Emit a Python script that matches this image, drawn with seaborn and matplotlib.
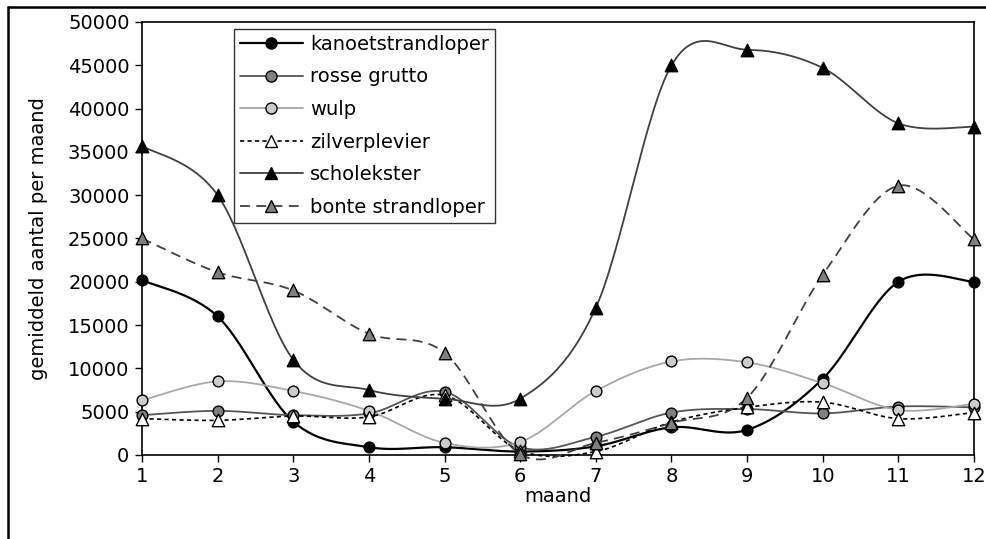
import numpy as np
import pandas as pd
import matplotlib
matplotlib.use("Agg")
import matplotlib.pyplot as plt
import seaborn as sns
from matplotlib.lines import Line2D

months = [1, 2, 3, 4, 5, 6, 7, 8, 9, 10, 11, 12]
kanoetstrandloper = [20200, 16000, 3850, 900, 900, 400, 1000, 3200, 2900, 8800, 20000, 20000]
rosse_grutto = [4600, 5100, 4600, 4800, 7300, 900, 2100, 4900, 5300, 4800, 5600, 5500]
wulp = [6300, 8500, 7400, 5100, 1400, 1500, 7400, 10800, 10700, 8300, 5200, 5900]
zilverplevier = [4200, 4000, 4500, 4400, 6900, 500, 400, 3800, 5500, 6100, 4200, 4900]
scholekster = [35700, 30000, 11000, 7500, 6500, 6500, 17000, 45000, 46800, 44700, 38300, 37900]
bonte_strandloper = [25000, 21100, 19000, 14000, 11800, 100, 1400, 3700, 6600, 20800, 31100, 24900]

series_names = ["kanoetstrandloper", "rosse grutto", "wulp", "zilverplevier",
                "scholekster", "bonte strandloper"]
series_values = [kanoetstrandloper, rosse_grutto, wulp, zilverplevier,
                 scholekster, bonte_strandloper]
y_ticks = [0, 5000, 10000, 15000, 20000, 25000, 30000, 35000, 40000, 45000, 50000]

styles = [
    dict(lc="black", lw=1.6, ls="-", m="o", mfc="black", ms=60),
    dict(lc="#555555", lw=1.3, ls="-", m="o", mfc="#808080", ms=60),
    dict(lc="#a8a8a8", lw=1.3, ls="-", m="o", mfc="#cccccc", ms=60),
    dict(lc="black", lw=1.2, ls=(0, (2.5, 2.0)), m="^", mfc="white", ms=80),
    dict(lc="#404040", lw=1.3, ls="-", m="^", mfc="black", ms=80),
    dict(lc="#404040", lw=1.3, ls=(0, (5.5, 3.5)), m="^", mfc="#808080", ms=80),
]


def smooth(xv, yv, n=30):
    # Excel-like smoothed line: cubic Bezier segments with Catmull-Rom control points
    P = np.column_stack([xv, yv]).astype(float)
    out = []
    for i in range(len(P) - 1):
        p0 = P[i - 1] if i > 0 else P[i]
        p1 = P[i]
        p2 = P[i + 1]
        p3 = P[i + 2] if i + 2 < len(P) else P[i + 1]
        c1 = p1 + (p2 - p0) / 6.0
        c2 = p2 - (p3 - p1) / 6.0
        t = np.linspace(0, 1, n, endpoint=(i == len(P) - 2))[:, None]
        seg = ((1 - t) ** 3) * p1 + 3 * ((1 - t) ** 2) * t * c1 + 3 * (1 - t) * t ** 2 * c2 + t ** 3 * p2
        out.append(seg)
    out = np.vstack(out)
    return out[:, 0], out[:, 1]


sns.set_style("ticks")
plt.rcParams["font.family"] = ["DejaVu Sans"]
plt.rcParams["text.color"] = "black"
plt.rcParams["axes.labelcolor"] = "black"
FS = 14

fig = plt.figure(figsize=(9.86, 5.39), dpi=100)
ax = fig.add_axes([142 / 986, 1 - 455 / 539, (974 - 142) / 986, (455 - 22) / 539])

handles = []
for k, (name, vals, st) in enumerate(zip(series_names, series_values, styles)):
    sx, sy = smooth(months, vals)
    df = pd.DataFrame({"x": sx, "y": sy})
    sns.lineplot(data=df, x="x", y="y", ax=ax, color=st["lc"], linewidth=st["lw"],
                 linestyle=st["ls"], estimator=None, sort=False, zorder=2 + k * 2,
                 clip_on=False)
    pts = pd.DataFrame({"x": months, "y": vals})
    sns.scatterplot(data=pts, x="x", y="y", ax=ax, marker=st["m"], s=st["ms"],
                    color=st["mfc"], edgecolor="black", linewidth=1.0,
                    zorder=3 + k * 2, clip_on=False)
    handles.append(Line2D([0], [0], color=st["lc"], lw=st["lw"], linestyle=st["ls"],
                          marker=st["m"], markerfacecolor=st["mfc"],
                          markeredgecolor="black", markeredgewidth=1.0,
                          markersize=8 if st["m"] == "o" else 9))

ax.set_xlim(1, 12)
ax.set_ylim(0, 50000)
ax.set_xticks(months)
ax.set_xticklabels([str(m) for m in months])
ax.set_yticks(y_ticks)
ax.set_yticklabels([str(v) for v in y_ticks])
ax.tick_params(axis="both", labelsize=FS, length=5, width=1, color="black",
               labelcolor="black", pad=4)
for sp in ax.spines.values():
    sp.set_visible(True)
    sp.set_color("black")
    sp.set_linewidth(1.2)
ax.set_xlabel("maand", fontsize=FS, labelpad=0, color="black")
ax.set_ylabel("gemiddeld aantal per maand", fontsize=FS, labelpad=14, color="black")

leg = ax.legend(handles, series_names, loc="upper left",
                bbox_to_anchor=((234 - 142) / 832, (455 - 29) / 433),
                borderaxespad=0, fontsize=FS, frameon=True, fancybox=False,
                handlelength=3.25, handletextpad=0.35, labelspacing=0.7,
                borderpad=0.3, numpoints=1, labelcolor="black")
leg.get_frame().set_edgecolor("black")
leg.get_frame().set_linewidth(1.0)
leg.set_zorder(20)

# outer figure frame (left and top edges visible)
fig.add_artist(Line2D([8 / 986, 8 / 986], [0, 1 - 7 / 539], transform=fig.transFigure,
                      color="black", lw=1.8))
fig.add_artist(Line2D([8 / 986, 1], [1 - 7 / 539, 1 - 7 / 539], transform=fig.transFigure,
                      color="black", lw=1.8))

fig.savefig("out.png", dpi=100, facecolor="white")
